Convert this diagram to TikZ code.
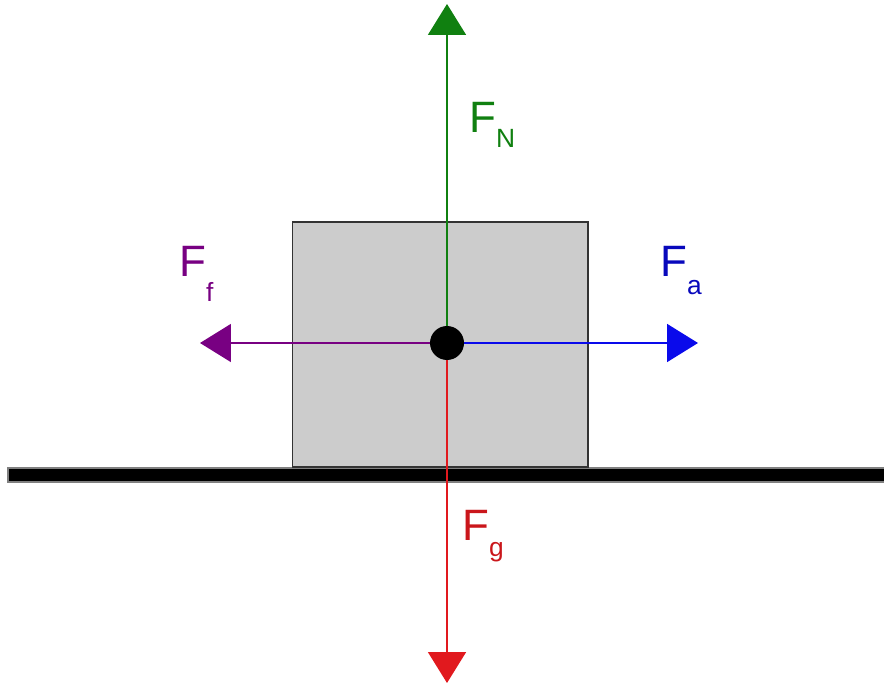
\documentclass[tikz,border=0pt]{standalone}
\usepackage{fontspec}
\setmainfont{Liberation Sans}
\usetikzlibrary{arrows.meta, positioning}
\definecolor{fgreen}{RGB}{16,128,16}
\definecolor{fpurple}{RGB}{120,0,130}
\definecolor{fblue}{RGB}{10,10,235}
\definecolor{fred}{RGB}{225,25,30}
\definecolor{boxgray}{RGB}{204,204,204}
\newcommand{\flab}[2]{F\raisebox{#2}{\fontsize{15}{15}\selectfont #1}}
\tikzset{
    force/.style={
        -{Triangle[length=0.62cm, width=0.76cm]},
        line width=1pt
    },
    lab/.style={
        inner sep=0pt,
        anchor=base west,
        font=\fontsize{25}{25}\selectfont
    }
}
\begin{document}
\begin{tikzpicture}[x=0.02cm, y=0.02cm]
            % Frame
            \useasboundingbox (0,0) rectangle (884,686);

            % Ground
            \draw[gray, fill=black, line width=0.6pt] (8,204) rectangle (886,218);

            % Block
            \node[draw=black!80, fill=boxgray, line width=0.6pt, minimum width=5.92cm,
                minimum height=4.9cm, inner sep=0pt] (block) at (440,341.5) {};

            % Centre of mass and arrow tips
            \coordinate (cm) at (447,343);
            \coordinate (up) at (447,682);
            \coordinate (down) at (447,3);
            \coordinate (left) at (200,343);
            \coordinate (right) at (698,343);

            % Forces
            \draw[force, fgreen] (cm) -- (up);
            \draw[force, fred] (cm) -- (down);
            \draw[force, fpurple] (cm) -- (left);
            \draw[force, fblue] (cm) -- (right);

            \node[circle, fill=black, minimum size=0.68cm, inner sep=0pt] (dot) at (cm) {};

            % Labels
            \node[lab, text=fgreen] (fn) at (469,553) {\flab{N}{-0.3cm}};
            \node[lab, text=fpurple] (ff) at (179,409) {\flab{f}{-0.5cm}};
            \node[lab, text=fblue!80!black] (fa) at (660,409) {\flab{a}{-0.36cm}};
            \node[lab, text=fred!90!black] (fg) at (462,146) {\flab{g}{-0.34cm}};
\end{tikzpicture}
\end{document}
